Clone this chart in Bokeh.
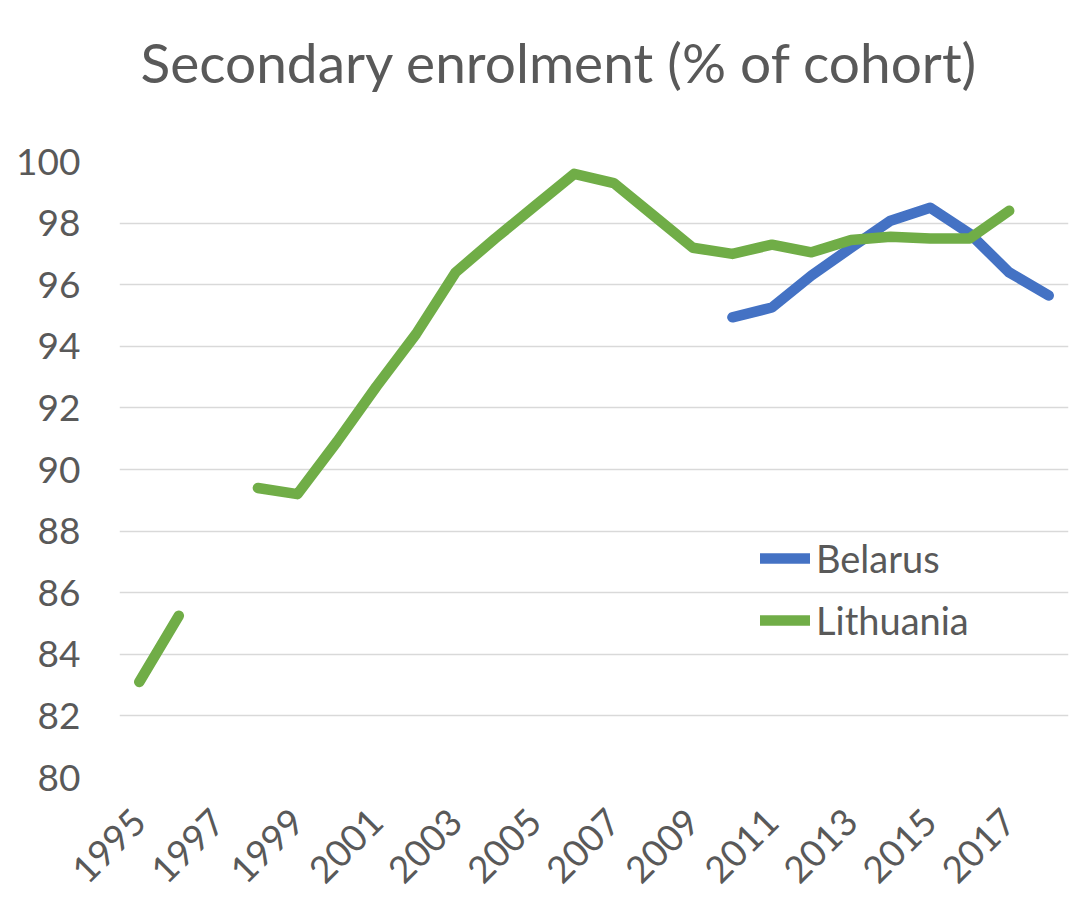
import math
from bokeh.plotting import figure
from bokeh.models import ColumnDataSource, FixedTicker, Range1d, Legend, LegendItem, Title
from bokeh.embed import file_html
from bokeh.resources import INLINE

nan = float("nan")

title_text = "Secondary enrolment (% of cohort)"
years = list(range(1995, 2019))
belarus = [nan] * 15 + [94.94, 95.26, 96.3, 97.2, 98.08, 98.5, 97.66, 96.4, 95.65]
lithuania = [83.1, 85.25, nan, 89.4, 89.2, 90.9, 92.7, 94.4, 96.4, 97.5, 98.55, 99.6,
             99.3, 98.25, 97.2, 97.0, 97.3, 97.05, 97.45, 97.56, 97.5, 97.5, 98.4, nan]
tick_years = years[::2][:12]
y_ticks = list(range(80, 101, 2))

src = ColumnDataSource(dict(year=years, belarus=belarus, lithuania=lithuania))

TEXT = "#595959"
FONT = "Lato"

p = figure(width=1078, height=904, output_backend="svg", toolbar_location=None,
           x_range=Range1d(1994.5, 2018.5), y_range=Range1d(80, 100),
           min_border_left=119, min_border_right=10, min_border_top=161,
           min_border_bottom=127)
p.outline_line_color = None
p.background_fill_color = "white"
p.border_fill_color = "white"
p.title.text = ""

spacer = Title(text=" ", text_font_size="10px", standoff=48, text_font=FONT)
p.add_layout(spacer, "above")
main_title = Title(text=title_text, text_font=FONT, text_font_size="55px",
                   text_font_style="normal", text_color=TEXT, align="left",
                   offset=21, standoff=10)
p.add_layout(main_title, "above")

rb = p.line("year", "belarus", source=src, line_color="#4472C4", line_width=10.5,
            line_cap="round", line_join="round")
rl = p.line("year", "lithuania", source=src, line_color="#70AD47", line_width=10.5,
            line_cap="round", line_join="round")

p.xgrid.grid_line_color = None
p.ygrid.grid_line_color = "#D9D9D9"
p.ygrid.grid_line_width = 1.5

p.yaxis.ticker = FixedTicker(ticks=y_ticks)
p.xaxis.ticker = FixedTicker(ticks=tick_years)
for ax in (p.xaxis[0], p.yaxis[0]):
    ax.axis_line_color = None
    ax.major_tick_line_color = None
    ax.minor_tick_line_color = None
    ax.major_label_text_font = FONT
    ax.major_label_text_color = TEXT
    ax.major_label_text_font_size = "37px"
p.yaxis.major_label_standoff = 33
p.xaxis.major_label_orientation = math.pi / 4
p.xaxis.major_label_standoff = 32

legend = Legend(items=[LegendItem(label="Belarus", renderers=[rb]),
                       LegendItem(label="Lithuania", renderers=[rl])],
                location=(641, 134), padding=0, margin=0, spacing=16,
                glyph_width=50, glyph_height=40, label_height=40,
                label_standoff=6, label_text_font=FONT, label_text_font_size="38px",
                label_text_color=TEXT, background_fill_alpha=0,
                border_line_color=None)
p.add_layout(legend)

open("out.html", "w").write(file_html(p, INLINE))
